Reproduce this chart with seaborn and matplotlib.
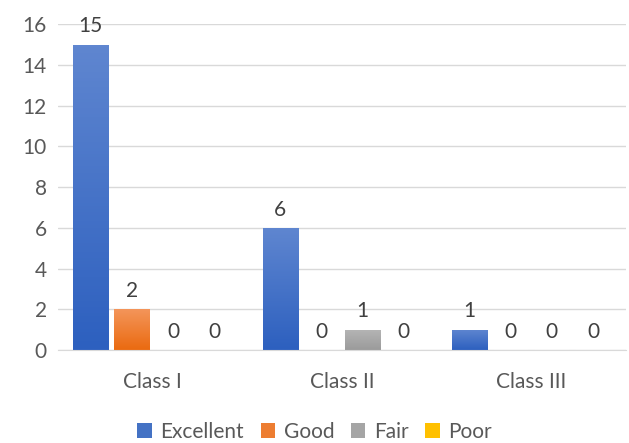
import numpy as np
import pandas as pd
import matplotlib
matplotlib.use("Agg")
import matplotlib.pyplot as plt
import seaborn as sns
from matplotlib.colors import LinearSegmentedColormap
from matplotlib.patches import Patch

# data
classes = ["Class I", "Class II", "Class III"]
ratings = ["Excellent", "Good", "Fair", "Poor"]
excellent = [15, 6, 1]
good = [2, 0, 0]
fair = [0, 1, 0]
poor = [0, 0, 0]

# gradient colours (top, bottom) per rating
top_colors = ["#5F86D0", "#F4955A", "#B5B5B5", "#FFCB3A"]
bot_colors = ["#2D60BF", "#EA6A10", "#9B9B9B", "#F2B800"]
mid_colors = ["#4472C4", "#ED7D31", "#A5A5A5", "#FFC000"]

df = pd.DataFrame({
    "cls": classes * 4,
    "rating": [r for r in ratings for _ in classes],
    "count": excellent + good + fair + poor,
})

sns.set_style("white")
plt.rcParams["font.family"] = ["Lato", "DejaVu Sans"]
text_col = "#595959"

fig, ax = plt.subplots(figsize=(6.29, 4.43), dpi=100)
fig.subplots_adjust(left=0.092, right=0.995, top=0.945, bottom=0.21)

sns.barplot(data=df, x="cls", y="count", hue="rating", order=classes,
            hue_order=ratings, palette=mid_colors, width=0.87, gap=0.15,
            legend=False, ax=ax)

# gradient fill on each bar
for i, cont in enumerate(ax.containers):
    cmap = LinearSegmentedColormap.from_list("g", [bot_colors[i], top_colors[i]])
    for bar in cont:
        h = bar.get_height()
        if h <= 0:
            continue
        x0 = bar.get_x()
        w = bar.get_width()
        bar.set_facecolor("none")
        bar.set_edgecolor("none")
        grad = np.linspace(0, 1, 100).reshape(-1, 1)
        im = ax.imshow(grad, cmap=cmap, origin="lower", aspect="auto",
                       extent=[x0, x0 + w, 0, h], zorder=2)
        im.set_clip_path(bar)
    ax.bar_label(cont, labels=[f"{v:g}" for v in cont.datavalues],
                 padding=6, fontsize=15, color="#404040")

ax.set_xlim(-0.5, 2.5)
ax.set_ylim(0, 16)
ax.set_yticks(range(0, 17, 2))
ax.yaxis.grid(True, color="#D9D9D9", linewidth=1)
ax.set_axisbelow(True)
for s in ["top", "right", "left"]:
    ax.spines[s].set_visible(False)
ax.spines["bottom"].set_color("#D9D9D9")
ax.tick_params(axis="both", length=0, labelsize=15, colors=text_col, pad=8)
ax.tick_params(axis="x", pad=16)
ax.set_xlabel("")
ax.set_ylabel("")

handles = [Patch(facecolor=c, edgecolor="none") for c in mid_colors]
fig.legend(handles, ratings, loc="lower center", ncol=4, frameon=False,
           fontsize=15, labelcolor=text_col, handlelength=0.7,
           handleheight=0.7, handletextpad=0.4, columnspacing=0.8,
           bbox_to_anchor=(0.5, -0.04))

fig.savefig("out.png", dpi=100)
